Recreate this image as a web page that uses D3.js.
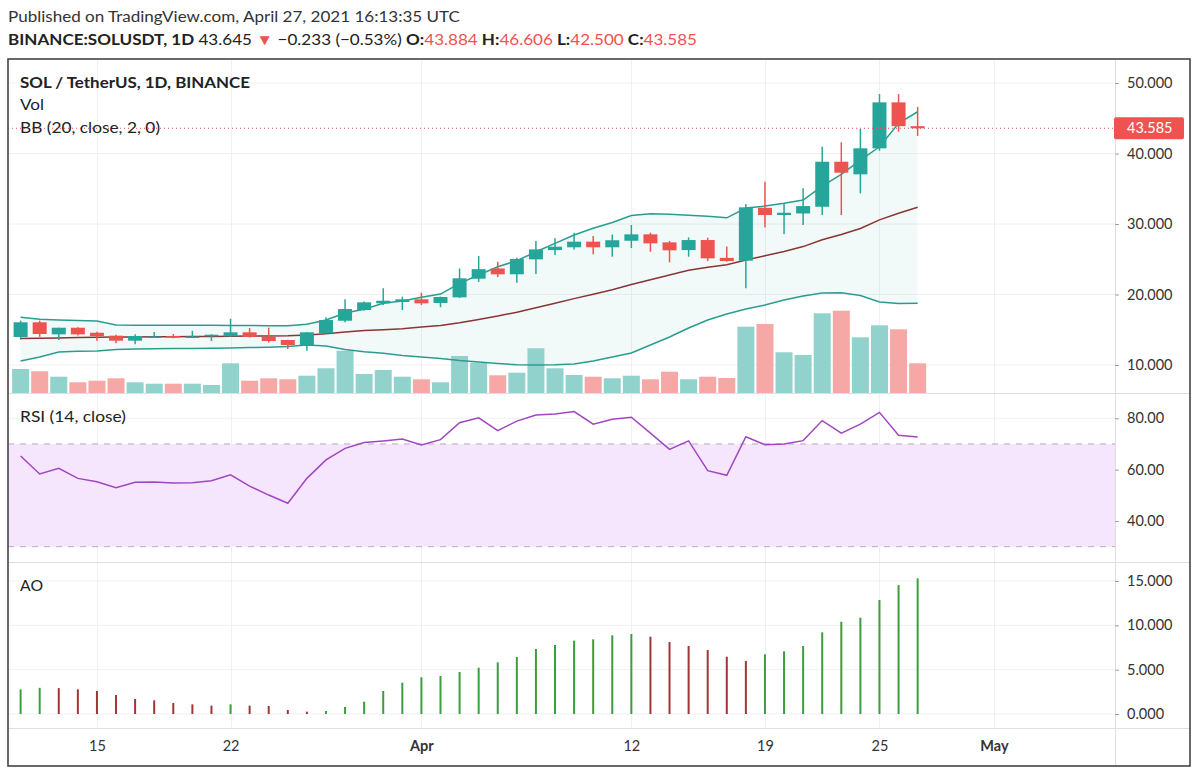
<!DOCTYPE html>
<html><head><meta charset="utf-8">
<script src="https://cdn.jsdelivr.net/npm/d3@7"></script>
<style>
body{margin:0;background:#fff}
svg{display:block}
text{font-family:Lato,"Open Sans","Noto Sans",sans-serif}
</style>
</head><body>
<svg id="c" width="1200" height="775"></svg>
<script>
// ---------- data ----------
const startDay = "2021-03-11";
const endDay = "2021-04-28"; // exclusive
const openP  = [13.97,16.06,14.35,15.29,14.58,14.16,13.45,14.0,14.1,14.0,14.07,14.07,14.64,14.0,13.55,12.84,14.5,16.28,17.8,18.75,18.94,19.32,18.8,19.6,22.24,23.7,22.87,24.99,26.3,26.7,27.5,26.7,27.63,28.54,27.4,26.31,27.73,25.2,24.8,32.3,31.28,31.5,32.45,38.84,37.05,40.74,47.26,43.884];
const highP  = [16.3,16.3,15.3,15.35,14.72,14.3,14.35,14.7,14.4,14.85,14.35,16.57,15.25,15.3,13.6,14.7,16.77,19.32,19.0,20.88,19.69,20.26,19.7,23.7,25.46,24.65,25.2,27.6,27.97,28.77,28.3,28.5,29.86,28.77,27.6,28.1,28.06,26.8,32.84,36.0,32.9,35.06,40.96,41.6,43.48,48.44,48.44,46.606];
const lowP   = [13.6,14.0,13.55,14.2,13.45,13.1,12.94,13.9,13.8,13.9,13.4,14.0,13.9,13.2,12.27,12.03,14.4,16.06,17.7,18.5,17.8,18.5,18.2,19.5,21.8,22.5,21.67,22.9,25.6,26.4,25.7,25.36,26.6,26.07,24.57,25.36,24.75,24.7,20.88,29.5,28.58,29.86,31.28,31.28,34.35,40.4,43.1,42.5];
const closeP = [16.06,14.4,15.29,14.35,14.11,13.45,14.11,14.05,14.0,14.05,14.3,14.64,14.0,13.4,12.84,14.64,16.38,17.94,18.89,19.12,19.32,18.75,19.65,22.3,23.6,22.87,25.04,26.4,26.78,27.5,26.7,27.7,28.54,27.26,26.27,27.73,25.13,24.75,32.37,31.28,31.6,32.55,38.84,37.28,40.74,47.26,43.884,43.585];
const volume = [2.40,2.17,1.63,1.07,1.23,1.47,1.07,0.93,0.93,0.93,0.80,2.97,1.23,1.47,1.37,1.73,2.47,4.23,1.90,2.30,1.63,1.37,1.07,3.70,3.03,1.77,2.03,4.47,2.47,1.80,1.63,1.47,1.73,1.37,2.13,1.37,1.63,1.50,6.63,6.90,4.07,3.80,7.97,8.23,5.57,6.77,6.37,2.97];
const bbUpper = [16.77,16.48,16.38,16.31,16.24,15.67,15.63,15.63,15.63,15.63,15.63,15.60,15.60,15.57,15.57,15.77,16.38,17.38,17.90,18.75,19.08,19.60,20.07,21.59,22.77,23.94,24.79,26.07,27.26,28.44,29.39,30.21,31.21,31.46,31.38,31.23,31.09,30.88,32.27,32.55,32.94,33.40,35.39,37.05,39.08,40.96,44.28,45.93];
const bbBasis = [13.75,13.8,13.85,13.9,13.93,13.96,13.98,14.0,14.02,14.04,14.06,14.08,14.1,14.12,14.15,14.25,14.45,14.7,14.88,15.0,15.16,15.38,15.60,16.00,16.47,16.94,17.49,18.11,18.75,19.42,20.04,20.69,21.42,22.11,22.78,23.44,23.87,24.22,24.89,25.50,26.11,26.80,27.76,28.51,29.37,30.59,31.53,32.39];
const bbLower = [10.57,11.13,11.84,11.94,11.99,12.20,12.27,12.30,12.33,12.35,12.38,12.41,12.47,12.52,12.62,12.84,12.70,12.20,11.89,11.66,11.35,11.13,10.92,10.64,10.43,10.21,10.04,10.0,10.03,10.14,10.57,11.13,11.70,12.84,13.97,15.25,16.38,17.23,17.94,18.51,19.22,19.79,20.21,20.26,19.86,18.94,18.72,18.75];
const rsi = [65.3,58.3,60.5,56.6,55.3,53.0,55.1,55.2,54.8,54.9,55.7,58.0,53.6,50.1,46.9,56.6,63.8,68.3,70.6,71.2,71.9,69.6,71.7,78.3,80.2,75.2,78.9,81.3,81.7,82.6,77.7,79.6,80.4,74.2,67.9,71.2,59.6,57.8,72.8,69.7,70.0,71.3,79.1,74.2,77.7,82.3,73.4,72.7];
const ao = [2.78,2.95,2.92,2.78,2.59,2.14,1.69,1.54,1.24,1.09,0.94,1.09,0.94,0.90,0.45,0.26,0.34,0.79,1.39,2.59,3.53,4.14,4.28,4.73,5.22,5.83,6.43,7.33,7.78,8.27,8.42,8.87,9.02,8.72,8.12,7.67,7.22,6.46,5.98,6.73,7.07,7.67,9.21,10.41,10.86,12.85,14.54,15.30];
const lastPrice = 43.585;
const priceTicks = [10,20,30,40,50];
const rsiTicks = [40,60,80];
const rsiBands = [30,70];
const aoTicks = [0,5,10,15];
const xTickDates = ["2021-03-15","2021-03-22","2021-04-01","2021-04-12","2021-04-19","2021-04-25","2021-05-01"];
const xTickLabels = ["15","22","Apr","12","19","25","May"];

// ---------- layout ----------
const L = 8, R = 1115, FR = 1190;
const mainTop = 60, mainBot = 393, rsiTop = 393, rsiBot = 562, aoTop = 562, aoBot = 728, frameBot = 766;
const DAY = 864e5;
const t0 = new Date(startDay + "T00:00:00Z");
const dates = d3.utcDays(t0, new Date(endDay + "T00:00:00Z"));

const x = d3.scaleUtc().domain([new Date(+t0 - 0.66*DAY), new Date(+t0 + 57.34*DAY)]).range([L, R]);
const yP = d3.scaleLinear().domain([6.03, 53.27]).range([mainBot, mainTop]);
const yV = d3.scaleLinear().domain([0, 10]).range([mainBot, mainBot - 100]);
const yR = d3.scaleLinear().domain([24.03, 89.85]).range([rsiBot, rsiTop]);
const yA = d3.scaleLinear().domain([-1.58, 17.14]).range([aoBot, aoTop]);

const UP = "#26a69a", DN = "#ef5350";
const svg = d3.select("#c");
const dark = "#222";

// ---------- header ----------
svg.append("text").attr("x", 8).attr("y", 22).attr("font-size", 15.5).attr("fill", "#333")
  .attr("textLength", 452).attr("lengthAdjust", "spacingAndGlyphs")
  .text("Published on TradingView.com, April 27, 2021 16:13:35 UTC");
const h2 = svg.append("text").attr("x", 8).attr("y", 45).attr("font-size", 15.5).attr("fill", dark)
  .attr("textLength", 689).attr("lengthAdjust", "spacingAndGlyphs");
[["BINANCE:SOLUSDT, 1D", "bold", dark], [" 43.645 ", "normal", dark], ["▼", "normal", DN],
 [" −0.233 (−0.53%) ", "normal", dark], ["O:", "bold", dark], ["43.884", "normal", DN],
 [" H:", "bold", dark], ["46.606", "normal", DN], [" L:", "bold", dark], ["42.500", "normal", DN],
 [" C:", "bold", dark], ["43.585", "normal", DN]].forEach(([t, w, c]) => {
  h2.append("tspan").attr("font-weight", w).attr("fill", c).text(t);
});

// ---------- grid ----------
const grid = svg.append("g").attr("stroke", "#eef0f4").attr("stroke-width", 1);
xTickDates.forEach(d => {
  const xx = Math.round(x(new Date(d + "T00:00:00Z"))) + 0.5;
  grid.append("line").attr("x1", xx).attr("x2", xx).attr("y1", mainTop).attr("y2", aoBot);
});
priceTicks.forEach(v => grid.append("line").attr("x1", L).attr("x2", R).attr("y1", yP(v)).attr("y2", yP(v)));
rsiTicks.forEach(v => grid.append("line").attr("x1", L).attr("x2", R).attr("y1", yR(v)).attr("y2", yR(v)));
aoTicks.forEach(v => grid.append("line").attr("x1", L).attr("x2", R).attr("y1", yA(v)).attr("y2", yA(v)));

// ---------- main pane ----------
const idx = d3.range(dates.length);
const bbArea = d3.area().x(i => x(dates[i])).y0(i => yP(bbLower[i])).y1(i => yP(bbUpper[i]));
svg.append("path").datum(idx).attr("d", bbArea).attr("fill", "rgba(38,166,154,0.06)");

const isUp = i => closeP[i] >= openP[i];
svg.append("g").selectAll("rect").data(idx).join("rect")
  .attr("x", i => x(dates[i]) - 8.5).attr("width", 17)
  .attr("y", i => yV(volume[i])).attr("height", i => yV(0) - yV(volume[i]))
  .attr("fill", i => isUp(i) ? "#92d2cc" : "#f6a8a6");

const line = arr => d3.line().x(i => x(dates[i])).y(i => yP(arr[i]))(idx);
svg.append("path").attr("d", line(bbUpper)).attr("fill", "none").attr("stroke", "#2a9d8f").attr("stroke-width", 1.5);
svg.append("path").attr("d", line(bbLower)).attr("fill", "none").attr("stroke", "#2a9d8f").attr("stroke-width", 1.5);
svg.append("path").attr("d", line(bbBasis)).attr("fill", "none").attr("stroke", "#8a3434").attr("stroke-width", 1.5);

const cg = svg.append("g");
cg.selectAll("line").data(idx).join("line")
  .attr("x1", i => x(dates[i])).attr("x2", i => x(dates[i]))
  .attr("y1", i => yP(highP[i])).attr("y2", i => yP(lowP[i]))
  .attr("stroke", i => isUp(i) ? UP : DN).attr("stroke-width", 1.5);
cg.selectAll("rect").data(idx).join("rect")
  .attr("x", i => x(dates[i]) - 7).attr("width", 14)
  .attr("y", i => yP(Math.max(openP[i], closeP[i])))
  .attr("height", i => Math.max(1.5, Math.abs(yP(openP[i]) - yP(closeP[i]))))
  .attr("fill", i => isUp(i) ? UP : DN);

// last price dotted line
svg.append("line").attr("x1", L).attr("x2", R).attr("y1", yP(lastPrice)).attr("y2", yP(lastPrice))
  .attr("stroke", DN).attr("stroke-width", 1).attr("stroke-dasharray", "1,3");

// ---------- RSI pane ----------
svg.append("rect").attr("x", L).attr("width", R - L)
  .attr("y", yR(rsiBands[1])).attr("height", yR(rsiBands[0]) - yR(rsiBands[1])).attr("fill", "#f5e6fd");
rsiBands.forEach(v => svg.append("line").attr("x1", L).attr("x2", R).attr("y1", yR(v)).attr("y2", yR(v))
  .attr("stroke", "#b3abb8").attr("stroke-width", 1).attr("stroke-dasharray", "6,6"));
svg.append("path").attr("d", d3.line().x(i => x(dates[i])).y(i => yR(rsi[i]))(idx))
  .attr("fill", "none").attr("stroke", "#a046c0").attr("stroke-width", 1.5);

// ---------- AO pane ----------
svg.append("g").selectAll("line").data(idx).join("line")
  .attr("x1", i => x(dates[i])).attr("x2", i => x(dates[i]))
  .attr("y1", yA(0)).attr("y2", i => yA(ao[i]))
  .attr("stroke", i => (i === 0 || ao[i] >= ao[i-1]) ? "#3c9d3c" : "#9f3535").attr("stroke-width", 2);

// ---------- separators & frame ----------
const sep = svg.append("g").attr("stroke", "#dcdfe6").attr("stroke-width", 1);
[rsiTop, aoTop, aoBot].forEach(y => sep.append("line").attr("x1", L).attr("x2", FR).attr("y1", y + 0.5).attr("y2", y + 0.5));
sep.append("line").attr("x1", R + 0.5).attr("x2", R + 0.5).attr("y1", mainTop).attr("y2", frameBot);

// ---------- axes ----------
function styleAxis(g) {
  g.select(".domain").remove();
  g.selectAll(".tick line").attr("stroke", "#9aa0aa");
  g.selectAll(".tick text").attr("font-size", 14.5).attr("fill", "#333").attr("font-family", "Lato,'Open Sans',sans-serif");
}
svg.append("g").attr("transform", `translate(${R},0)`)
  .call(d3.axisRight(yP).tickValues(priceTicks).tickFormat(d3.format(".3f")).tickSize(4).tickPadding(8)).call(styleAxis);
svg.append("g").attr("transform", `translate(${R},0)`)
  .call(d3.axisRight(yR).tickValues(rsiTicks).tickFormat(d3.format(".2f")).tickSize(4).tickPadding(8)).call(styleAxis);
svg.append("g").attr("transform", `translate(${R},0)`)
  .call(d3.axisRight(yA).tickValues(aoTicks).tickFormat(d3.format(".3f")).tickSize(4).tickPadding(8)).call(styleAxis);
const xa = svg.append("g").attr("transform", `translate(0,${aoBot})`)
  .call(d3.axisBottom(x).tickValues(xTickDates.map(d => new Date(d + "T00:00:00Z")))
    .tickFormat((d, i) => xTickLabels[i]).tickSize(0).tickPadding(13)).call(styleAxis);
xa.selectAll(".tick text").attr("font-weight", (d, i) => /[A-Za-z]/.test(xTickLabels[i]) ? "bold" : "normal");

// last price label
const ly = yP(lastPrice);
svg.append("rect").attr("x", R - 1).attr("y", ly - 11).attr("width", 70).attr("height", 22).attr("rx", 2).attr("fill", DN);
svg.append("text").attr("x", R + 12).attr("y", ly).attr("dy", "0.35em").attr("font-size", 14.5).attr("fill", "#fff")
  .text(d3.format(".3f")(lastPrice));

// frame
svg.append("rect").attr("x", L).attr("y", mainTop - 1).attr("width", FR - L).attr("height", frameBot - mainTop + 1)
  .attr("fill", "none").attr("stroke", "#444").attr("stroke-width", 1.6);

// ---------- legends ----------
const leg = (t, y, len, w) => svg.append("text").attr("x", 20).attr("y", y).attr("font-size", 15.5)
  .attr("font-weight", w || "normal").attr("fill", dark).attr("textLength", len).attr("lengthAdjust", "spacingAndGlyphs").text(t);
leg("SOL / TetherUS, 1D, BINANCE", 88, 230, "bold");
leg("Vol", 110, 24);
leg("BB (20, close, 2, 0)", 133, 140);
leg("RSI (14, close)", 422, 106);
leg("AO", 591, 23);
</script>
</body></html>
